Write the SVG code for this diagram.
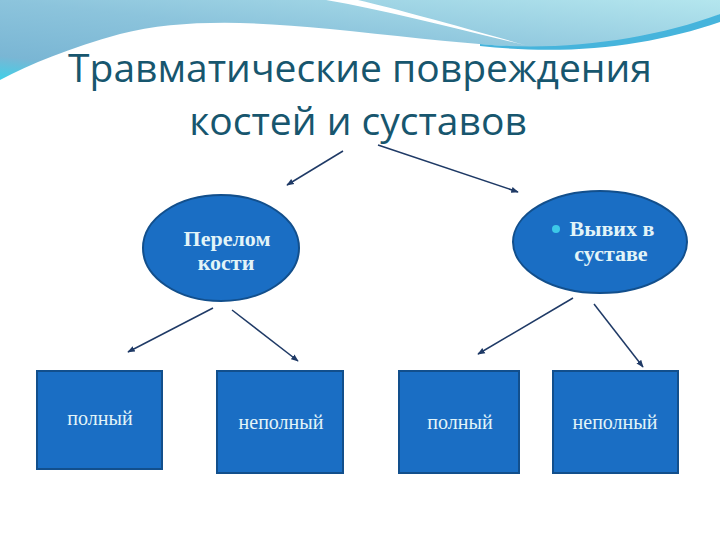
<svg xmlns="http://www.w3.org/2000/svg" width="720" height="540" viewBox="0 0 720 540">
<defs>
<linearGradient id="topg" x1="0" y1="1" x2="1" y2="0">
<stop offset="0" stop-color="#3fd0e8"/>
<stop offset="0.15" stop-color="#7ab6d4"/>
<stop offset="0.5" stop-color="#8cc4dc"/>
<stop offset="1" stop-color="#b4e6ee"/>
</linearGradient>
<marker id="ah" viewBox="0 0 10 10" refX="9" refY="5" markerWidth="5" markerHeight="5" orient="auto-start-reverse">
<path d="M0,1 L10,5 L0,9 Z" fill="#1f3a66"/>
</marker>
<style>
.title{font-family:"Open Sans","Noto Sans",sans-serif;font-size:39px;fill:#17566e;text-anchor:middle}
.node{fill:#1a6ec4;stroke:#124f8c;stroke-width:2}
.lbl{font-family:"Liberation Serif","DejaVu Serif",serif;fill:#e2f4f8;text-anchor:middle}
.bold{font-weight:bold;font-size:22px}
.box{font-size:20px}
.conn{stroke:#1f3a66;stroke-width:1.5;fill:none;marker-end:url(#ah)}
</style>
</defs>
<rect width="720" height="540" fill="#ffffff"/>
<g id="background">
<path d="M0,0 H720 V14 C660,44 600,50 540,48 C470,45 400,36 330,29 C250,21 180,19 120,34 C70,48 30,64 0,80 Z" fill="url(#topg)"/>
<path d="M480,44 C560,52 650,40 720,14 L720,22 C650,46 570,56 480,46 Z" fill="#46b4dc"/>
<path d="M326,0 C385,10 452,28 525,45 C458,26 400,10 358,0 Z" fill="#ffffff"/>
</g>
<g id="title">
<text class="title" x="360" y="82">Травматические повреждения</text>
<text class="title" x="358" y="135">костей и суставов</text>
</g>
<g id="connectors">
<line class="conn" x1="343" y1="151" x2="287" y2="185"/>
<line class="conn" x1="378" y1="145" x2="518" y2="192"/>
<line class="conn" x1="213" y1="308" x2="128" y2="352"/>
<line class="conn" x1="232" y1="310" x2="298" y2="361"/>
<line class="conn" x1="573" y1="298" x2="478" y2="354"/>
<line class="conn" x1="594" y1="304" x2="643" y2="367"/>
</g>
<g id="node-perelom">
<ellipse class="node" cx="221" cy="248" rx="78" ry="53"/>
<text class="lbl bold" x="227" y="246">Перелом</text>
<text class="lbl bold" x="226" y="270">кости</text>
</g>
<g id="node-vyvih">
<ellipse class="node" cx="600" cy="242" rx="87" ry="51"/>
<circle cx="556" cy="229" r="4" fill="#3cc8e8"/>
<text class="lbl bold" x="612" y="236">Вывих в</text>
<text class="lbl bold" x="611" y="261">суставе</text>
</g>
<g id="box1">
<rect class="node" x="37" y="371" width="125" height="98"/>
<text class="lbl box" x="100" y="425">полный</text>
</g>
<g id="box2">
<rect class="node" x="217" y="371" width="126" height="102"/>
<text class="lbl box" x="281" y="429">неполный</text>
</g>
<g id="box3">
<rect class="node" x="399" y="371" width="120" height="102"/>
<text class="lbl box" x="460" y="429">полный</text>
</g>
<g id="box4">
<rect class="node" x="553" y="371" width="125" height="102"/>
<text class="lbl box" x="615" y="429">неполный</text>
</g>
</svg>
